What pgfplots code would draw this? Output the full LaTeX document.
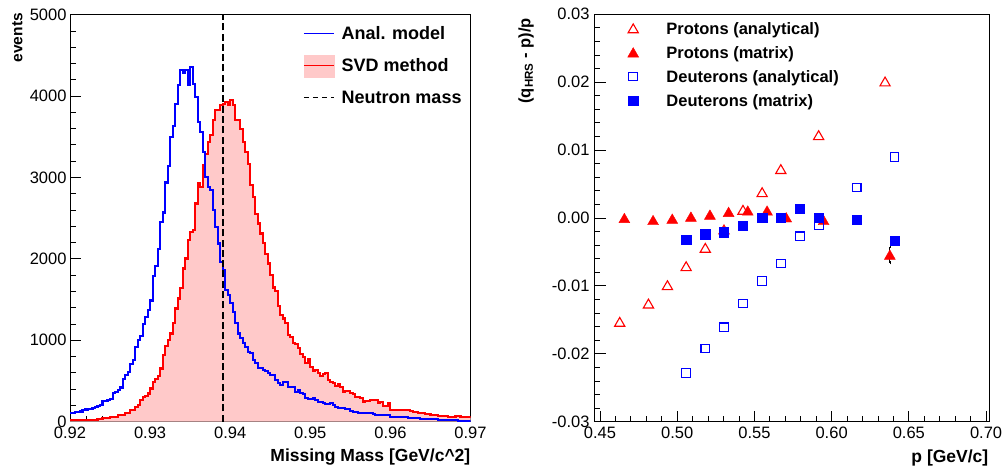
\documentclass[border=0pt]{standalone}
\usepackage{fontspec}
\setmainfont{Liberation Sans}
\usepackage{pgfplots}
\pgfplotsset{compat=1.18}
\usepackage{pgfplotstable}

\pgfplotstableread{
x b r
0.92 105 20
0.9203125 110 20
0.920625 118 20
0.9209375 122 20
0.92125 125 20
0.9215625 145 20
0.921875 150 20
0.9221875 155 20
0.9225 160 20
0.9228125 165 20
0.923125 185 20
0.9234375 192 29
0.92375 200 29
0.9240625 250 45
0.924375 257 45
0.9246875 270 45
0.925 277 61
0.9253125 350 61
0.925625 360 61
0.9259375 388 82
0.92625 420 82
0.9265625 530 82
0.926875 571 102
0.9271875 612 102
0.9275 714 143
0.9278125 763 143
0.928125 918 184
0.9284375 1008 204
0.92875 1057 265
0.9290625 1204 300
0.929375 1290 320
0.9296875 1375 347
0.93 1489 408
0.9303125 1795 490
0.930625 1918 530
0.9309375 2122 559
0.93125 2448 653
0.9315625 2570 816
0.931875 2938 926
0.9321875 3142 1000
0.9325 3500 1084
0.9328125 3630 1207
0.933125 3900 1391
0.9334375 4133 1514
0.93375 4317 1637
0.9340625 4284 1882
0.934375 4317 2005
0.9346875 4133 2230
0.935 4358 2332
0.9353125 4153 2353
0.935625 3990 2680
0.9359375 3683 2926
0.93625 3560 2885
0.9365625 3314 3151
0.936875 3008 3294
0.9371875 2885 3437
0.9375 2844 3519
0.9378125 2598 3703
0.938125 2394 3826
0.9384375 2189 3826
0.93875 1964 3887
0.9390625 1862 3908
0.939375 1616 3928
0.9396875 1555 3887
0.94 1453 3957
0.9403125 1350 3887
0.940625 1207 3703
0.9409375 1084 3703
0.94125 1023 3601
0.9415625 962 3437
0.941875 921 3314
0.9421875 859 3171
0.9425 839 2905
0.9428125 757 2762
0.943125 716 2557
0.9434375 655 2435
0.94375 655 2312
0.9440625 634 2200
0.944375 620 2060
0.9446875 600 1944
0.945 570 1800
0.9453125 573 1649
0.945625 512 1608
0.9459375 479 1420
0.94625 450 1309
0.9465625 491 1268
0.946875 491 1207
0.9471875 430 1064
0.9475 430 1035
0.9478125 430 962
0.948125 368 953
0.9484375 389 900
0.94875 348 831
0.9490625 340 790
0.949375 286 724
0.9496875 278 765
0.95 274 675
0.9503125 286 626
0.950625 266 634
0.9509375 246 593
0.95125 246 561
0.9515625 225 585
0.951875 217 593
0.9521875 217 512
0.9525 225 483
0.9528125 205 471
0.953125 176 442
0.9534375 164 458
0.95375 164 430
0.9540625 164 368
0.954375 155 376
0.9546875 155 381
0.955 131 348
0.9553125 115 340
0.955625 123 307
0.9559375 110 299
0.95625 110 286
0.9565625 110 246
0.956875 102 258
0.9571875 102 258
0.9575 102 266
0.9578125 100 266
0.958125 82 266
0.9584375 82 225
0.95875 78 246
0.9590625 78 192
0.959375 78 192
0.9596875 78 233
0.96 53 147
0.9603125 53 147
0.960625 53 147
0.9609375 53 147
0.96125 53 147
0.9615625 53 147
0.961875 53 143
0.9621875 45 143
0.9625 45 135
0.9628125 45 123
0.963125 45 123
0.9634375 45 110
0.96375 33 110
0.9640625 33 110
0.964375 33 94
0.9646875 33 94
0.965 33 78
0.9653125 33 78
0.965625 33 78
0.9659375 20 70
0.96625 20 70
0.9665625 20 70
0.966875 20 70
0.9671875 20 61
0.9675 20 61
0.9678125 20 61
0.968125 20 70
0.9684375 8 70
0.96875 8 53
0.9690625 8 53
0.969375 8 53
0.9696875 8 53
0.97 8 53
}\histdata

\pgfplotstableread{
x y
0.4628 -0.0153
0.4814 -0.0126
0.4937 -0.0099
0.5058 -0.0071
0.5182 -0.0044
0.5303 -0.0017
0.5426 0.0012
0.5550 0.0038
0.5671 0.0072
0.5916 0.0122
0.6346 0.0201
}\pana

\pgfplotstableread{
x y e
0.4658 0.0000 0.0001
0.4844 -0.0003 0.0001
0.4968 -0.0001 0.0001
0.5089 0.0002 0.0001
0.5212 0.0005 0.0001
0.5333 0.0009 0.0001
0.5457 0.0011 0.0001
0.5582 0.0011 0.0001
0.5706 0.0001 0.0001
0.5948 -0.0003 0.0001
0.6377 -0.0054 0.0012
}\pmat

\pgfplotstableread{
x y
0.5058 -0.0228
0.5182 -0.0192
0.5303 -0.0161
0.5426 -0.0126
0.5550 -0.0093
0.5671 -0.0067
0.5794 -0.0027
0.5918 -0.0011
0.6162 0.0045
0.6407 0.0090
}\dana

\pgfplotstableread{
x y
0.5058 -0.0032
0.5182 -0.0024
0.5303 -0.0021
0.5426 -0.0011
0.5550 0.0000
0.5671 0.0000
0.5794 0.0014
0.5918 0.0001
0.6162 -0.0003
0.6407 -0.0034
}\dmat

\pgfplotsset{
  myax/.style={
    scale only axis, anchor=south west,
    axis line style={line width=0.9pt},
    every tick/.style={black, line width=0.9pt},
    major tick length=11pt, minor tick length=5.5pt,
    tick pos=left, tick align=inside,
    scaled x ticks=false, scaled y ticks=false,
    /pgf/number format/assume math mode=true,
    tick label style={font=\fontsize{16.5}{18}\selectfont},
    xticklabel style={inner ysep=4.8pt},
    legend cell align=left,
  }
}

\begin{document}
\begin{tikzpicture}[x=1pt,y=1pt]
\useasboundingbox (0,0) rectangle (1004,468);

\begin{axis}[myax, at={(70pt,46.3pt)}, width=400.5pt, height=407pt,
  xmin=0.92, xmax=0.97, ymin=0, ymax=5000,
  xtick={0.92,0.93,0.94,0.95,0.96,0.97},
  ytick={0,1000,2000,3000,4000,5000},
  minor x tick num=4, minor y tick num=4,
  xticklabel style={/pgf/number format/fixed, /pgf/number format/fixed zerofill, /pgf/number format/precision=2},
  yticklabel style={inner xsep=3.3pt, /pgf/number format/fixed, /pgf/number format/1000 sep={}},
  legend style={at={(axis description cs:0.5818,0.9698)}, anchor=north west,
    draw=none, fill=none, inner sep=0pt, outer sep=0pt, row sep=15pt,
    font=\bfseries\fontsize{18}{20}\selectfont,
    nodes={inner sep=0pt, text height=13pt, text depth=4pt},
    /tikz/column 1/.style={column sep=7pt}},
]
\addplot[draw=none, fill=red!21, const plot, forget plot] table[x=x,y=r]{\histdata} \closedcycle;
\addplot[red, line width=2.1pt, const plot, forget plot] table[x=x,y=r]{\histdata};
\addplot[blue, line width=2.1pt, const plot, forget plot] table[x=x,y=b]{\histdata};
\addplot[black, line width=2.4pt, dash pattern=on 7pt off 3.3pt, forget plot] coordinates {(0.9391,0) (0.9391,5000)};
\addlegendimage{legend image code/.code={\draw[blue, line width=1.3pt] (0pt,2pt) -- (30pt,2pt);}}
\addlegendentry{Anal. model}
\addlegendimage{legend image code/.code={\fill[red!21, overlay] (0pt,-10pt) rectangle (30pt,12pt); \draw[red, line width=1.5pt] (0pt,2pt) -- (30pt,2pt);}}
\addlegendentry{SVD method}
\addlegendimage{legend image code/.code={\draw[black, line width=1.4pt, dash pattern=on 5pt off 4pt] (0pt,2pt) -- (30pt,2pt);}}
\addlegendentry{Neutron mass}
\end{axis}

\begin{axis}[myax, at={(594.7pt,46.3pt)}, width=394.3pt, height=407.4pt,
  xmin=0.4466, xmax=0.7019, ymin=-0.03, ymax=0.03,
  xtick={0.45,0.5,0.55,0.6,0.65,0.7},
  ytick={-0.03,-0.02,-0.01,0,0.01,0.02,0.03},
  minor x tick num=4, minor y tick num=4,
  xticklabel style={/pgf/number format/fixed, /pgf/number format/fixed zerofill, /pgf/number format/precision=2},
  yticklabel style={inner xsep=5pt, /pgf/number format/fixed, /pgf/number format/fixed zerofill, /pgf/number format/precision=2},
  legend style={at={(axis description cs:0.0718,0.9808)}, anchor=north west,
    draw=none, fill=none, inner sep=0pt, outer sep=0pt, row sep=7.5pt,
    font=\bfseries\fontsize{16.5}{18}\selectfont,
    nodes={inner sep=0pt, text height=12.5pt, text depth=4pt},
    /tikz/column 1/.style={column sep=23pt}},
  legend image code/.code={\draw[#1] plot coordinates {(10pt,2pt)}; \path (0pt,0pt) (20pt,0pt);},
]
\addplot[only marks, mark=triangle, red, mark size=5.9pt, mark options={line width=1.1pt, yshift=-1.45pt}] table[x=x,y=y]{\pana};
\addlegendentry{Protons (analytical)}
\addplot[only marks, mark=triangle*, red, mark size=6.3pt, mark options={fill=red, yshift=-1.55pt},
  error bars/.cd, y dir=both, y explicit, error bar style={black, line width=0.8pt}, error mark=-, error mark options={black, mark size=1.5pt}]
  table[x=x,y=y,y error=e]{\pmat};
\addlegendentry{Protons (matrix)}
\addplot[only marks, mark=square, blue, mark size=4.3pt, mark options={line width=1.1pt}] table[x=x,y=y]{\dana};
\addlegendentry{Deuterons (analytical)}
\addplot[only marks, mark=square*, blue, mark size=4.6pt, mark options={fill=blue}] table[x=x,y=y]{\dmat};
\addlegendentry{Deuterons (matrix)}
\end{axis}

\node[rotate=90, anchor=east, inner sep=0pt, font=\bfseries\fontsize{15.5}{17}\selectfont] at (17.5,455) {events};
\node[rotate=90, anchor=east, inner sep=0pt, font=\bfseries\fontsize{16.5}{18}\selectfont] at (526,450) {(q\textsubscript{HRS} - p)/p};
\node[anchor=base east, inner sep=0pt, font=\bfseries\fontsize{17.5}{19}\selectfont] at (470.5,6) {Missing Mass [GeV/c\textasciicircum 2]};
\node[anchor=base east, inner sep=0pt, font=\bfseries\fontsize{17.5}{19}\selectfont] at (988.5,5.5) {p [GeV/c]};
\end{tikzpicture}
\end{document}
